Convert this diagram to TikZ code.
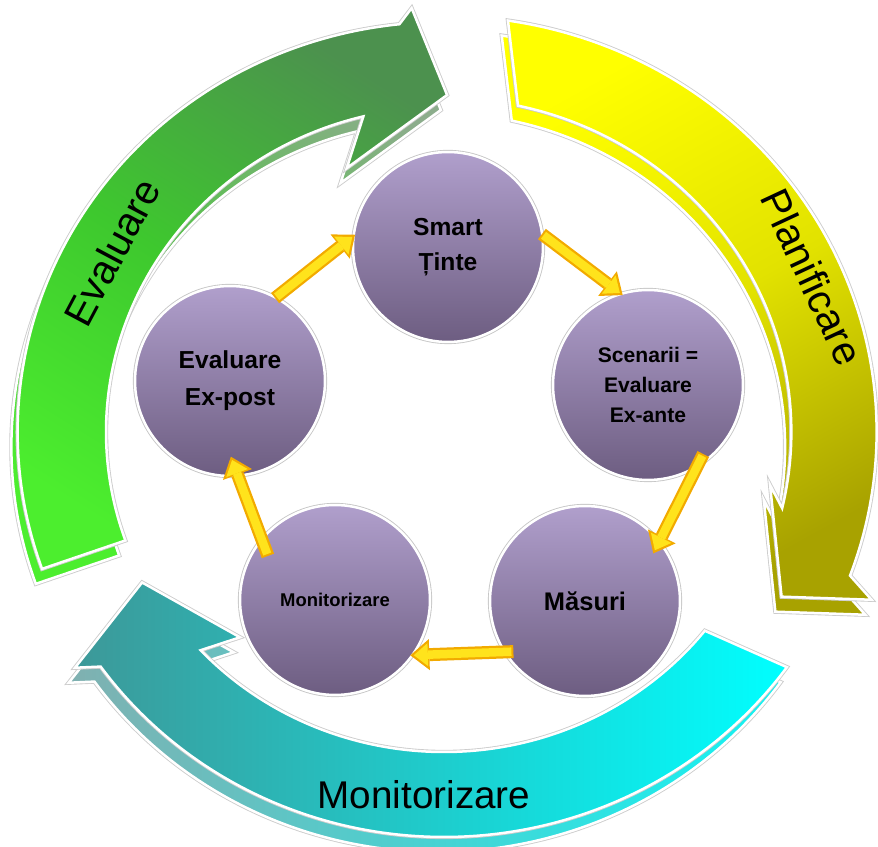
\documentclass[tikz,border=0pt]{standalone}
\usepackage{fontspec}
\setmainfont{Liberation Sans}
\usetikzlibrary{arrows.meta}

\definecolor{circtop}{HTML}{B09FCC}
\definecolor{circbot}{HTML}{6D5D81}
\definecolor{linkyellow}{HTML}{FFE31C}
\definecolor{linkorange}{HTML}{F2AA00}
\definecolor{greenlo}{HTML}{4CEE2E}
\definecolor{greenmid}{HTML}{3EC82E}
\definecolor{greentop}{HTML}{4C914E}
\definecolor{greenback}{HTML}{8CAD8C}
\definecolor{yellowhi}{HTML}{FFFF00}
\definecolor{yellowmid}{HTML}{E2E200}
\definecolor{yellowlo}{HTML}{A8A200}
\definecolor{cyanhi}{HTML}{00FFFF}
\definecolor{cyanlo}{HTML}{3D9898}
\definecolor{cyanback}{HTML}{80B0B0}

\tikzset{
  stage/.style={circle, minimum size=3.8cm, inner sep=0pt, align=center, text=black,
    top color=circtop, bottom color=circbot, draw=white, line width=0.05cm,
    preaction={draw=gray!45, line width=0.085cm}},
  flowarrow/.style 2 args={draw=linkyellow, line width=0.17cm,
    -{Triangle[length=0.28cm,width=0.46cm,line width=0pt]},
    shorten <=#1, shorten >=#2,
    preaction={draw=linkorange, line width=0.26cm,
      -{Triangle[length=0.38cm,width=0.62cm,line width=0pt]},
      shorten <=#1-0.04cm, shorten >=#2-0.07cm}},
  band/.style={draw=white, line width=0.05cm, preaction={draw=gray!40, line width=0.085cm}},
  ringtext/.style={font=\fontsize{23}{27}\selectfont, text=black}
}

\begin{document}
\begin{tikzpicture}[x=0.02cm, y=0.02cm]
  \useasboundingbox (0,0) rectangle (878,847);

  % outer cycle
  \begin{scope}[shift={(444,415)}, xscale=1.04]
    \begin{scope}[shift={(-6,-15)}]
      \path[band, top color=greenback, bottom color=greenlo, middle color=greenmid!80!greenback, shading angle=-32]
        (199.5:410) arc[start angle=199.5, end angle=96, radius=410] -- (94.2:425) -- (89.5:337)
        -- (109.5:280) -- (103.8:325) arc[start angle=103.8, end angle=199.5, radius=325] -- cycle;
      \path[band, top color=yellowhi, bottom color=yellowlo, middle color=yellowmid, shading angle=29]
        (81.5:416) arc[start angle=81.5, end angle=-20.2, radius=416] -- (-22.2:444) -- (-26.9:364)
        -- (-9.6:318) -- (-13.2:334) arc[start angle=-13.2, end angle=77.7, radius=334] -- cycle;
      \path[band, left color=cyanback, right color=cyanhi!85!cyanback]
        (-35.5:405) arc[start angle=-35.5, end angle=-144.6, radius=405] -- (-146.4:426) -- (-152.6:327)
        -- (-133.7:284) -- (-137:320) arc[start angle=-137, end angle=-38.4, radius=320] -- cycle;
    \end{scope}
    \path[band, top color=greentop, bottom color=greenlo, middle color=greenmid, shading angle=-32]
      (199.5:410) arc[start angle=199.5, end angle=96, radius=410] -- (94.2:425) -- (89.5:337)
      -- (109.5:280) -- (103.8:325) arc[start angle=103.8, end angle=199.5, radius=325] -- cycle;
    \path[band, top color=yellowhi, bottom color=yellowlo, middle color=yellowmid, shading angle=29]
      (81.5:416) arc[start angle=81.5, end angle=-20.2, radius=416] -- (-22.2:444) -- (-26.9:364)
      -- (-9.6:318) -- (-13.2:334) arc[start angle=-13.2, end angle=77.7, radius=334] -- cycle;
    \path[band, left color=cyanlo, right color=cyanhi]
      (-35.5:405) arc[start angle=-35.5, end angle=-144.6, radius=405] -- (-146.4:426) -- (-152.6:327)
      -- (-133.7:284) -- (-137:320) arc[start angle=-137, end angle=-38.4, radius=320] -- cycle;
  \end{scope}

  \node[ringtext, rotate=62] (evaltext) at (112,595) {Evaluare};
  \node[ringtext, rotate=-65] (plantext) at (812,570) {Planificare};
  \node[ringtext, font=\fontsize{22}{26}\selectfont] (montext) at (424,52) {Monitorizare};

  % inner cycle
  \node[stage, font=\bfseries\fontsize{14}{20}\selectfont] (smart) at (448,600) {Smart\\Ținte};
  \node[stage, font=\bfseries\fontsize{12}{17}\selectfont] (scen) at (648,462) {Scenarii =\\Evaluare\\Ex-ante};
  \node[stage, font=\bfseries\fontsize{14.5}{20}\selectfont] (masuri) at (585,246) {Măsuri};
  \node[stage, font=\bfseries\fontsize{10.5}{14}\selectfont] (moni) at (335,247) {Monitorizare};
  \node[stage, font=\bfseries\fontsize{14}{21}\selectfont] (expost) at (230,466) {Evaluare\\Ex-post};

  \draw[flowarrow={0pt}{0pt}] (expost.61) -- (smart.174);
  \draw[flowarrow={0pt}{0pt}] (smart.7) -- (scen.107);
  \draw[flowarrow={-0.28cm}{-0.22cm}] (scen.-60) -- (masuri.39);
  \draw[flowarrow={-0.16cm}{0pt}] (masuri.212) -- (moni.-35);
  \draw[flowarrow={-0.34cm}{-0.36cm}] (moni.140) -- (expost.-85);
\end{tikzpicture}
\end{document}
